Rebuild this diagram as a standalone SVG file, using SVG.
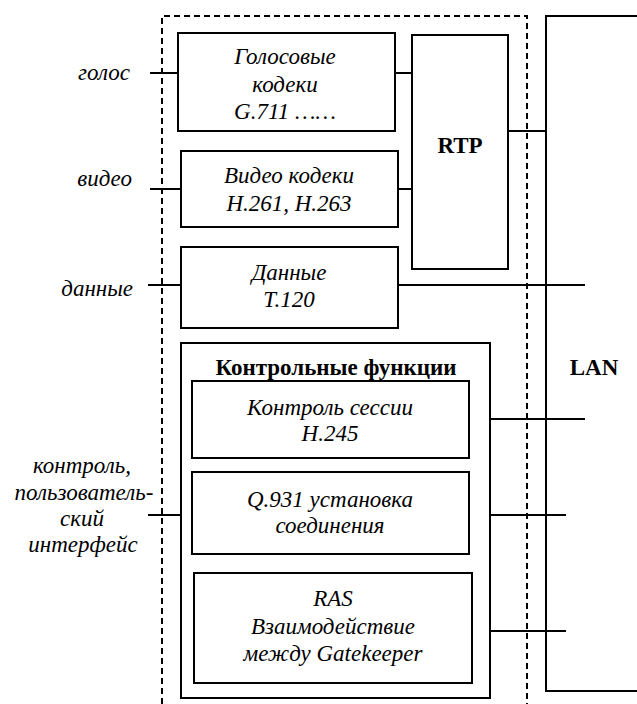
<svg xmlns="http://www.w3.org/2000/svg" width="637" height="704" viewBox="0 0 637 704">
<style>
.box{fill:#fff;stroke:#000;stroke-width:2}
.ln{stroke:#000;stroke-width:2;fill:none}
.dash{stroke:#000;stroke-width:2;fill:none;stroke-dasharray:6,4}
.t{font-family:"Liberation Serif","Times New Roman",serif;font-style:italic;font-size:23px;fill:#000;text-anchor:middle}
.tr{font-family:"Liberation Serif","Times New Roman",serif;font-style:italic;font-size:23px;fill:#000;text-anchor:end}
.b{font-family:"Liberation Serif","Times New Roman",serif;font-weight:bold;font-size:23px;fill:#000;text-anchor:middle}
</style>
<rect width="637" height="704" fill="#fff"/>
<g id="boundary">
<path class="dash" d="M162,704 V16 H527 V704"/>
</g>
<g id="lan">
<path class="ln" d="M637,16 H546 V691 H637"/>
<text class="b" x="594" y="375">LAN</text>
</g>
<g id="connectors">
<path class="ln" d="M150,73 H178"/>
<path class="ln" d="M395,73 H412"/>
<path class="ln" d="M150,189 H181"/>
<path class="ln" d="M398,189 H412"/>
<path class="ln" d="M508,131 H546"/>
<path class="ln" d="M148,285 H181"/>
<path class="ln" d="M398,285 H585"/>
<path class="ln" d="M148,515 H181"/>
<path class="ln" d="M469,419 H585"/>
<path class="ln" d="M469,515 H566"/>
<path class="ln" d="M472,631 H566"/>
</g>
<g id="labels">
<text class="tr" x="130" y="80">голос</text>
<text class="tr" x="132" y="186">видео</text>
<text class="tr" x="133" y="296">данные</text>
<text class="t" x="82" y="473">контроль,</text>
<text class="t" x="84" y="500">пользователь-</text>
<text class="t" x="82" y="526">ский</text>
<text class="t" x="83" y="552">интерфейс</text>
</g>
<g id="voice-codecs">
<rect class="box" x="178" y="33" width="217" height="98"/>
<text class="t" x="285" y="64">Голосовые</text>
<text class="t" x="285" y="92">кодеки</text>
<text class="t" x="285" y="119">G.711 ……</text>
</g>
<g id="video-codecs">
<rect class="box" x="181" y="151" width="217" height="76"/>
<text class="t" x="289" y="183">Видео кодеки</text>
<text class="t" x="289" y="211">H.261, H.263</text>
</g>
<g id="rtp">
<rect class="box" x="412" y="35" width="96" height="234"/>
<text class="b" x="460" y="153">RTP</text>
</g>
<g id="data">
<rect class="box" x="181" y="247" width="217" height="81"/>
<text class="t" x="289" y="280">Данные</text>
<text class="t" x="289" y="307">T.120</text>
</g>
<g id="control-functions">
<rect class="box" x="181" y="343" width="309" height="355"/>
<text class="b" x="336" y="375">Контрольные функции</text>
</g>
<g id="session-control">
<rect class="box" x="192" y="381" width="277" height="77"/>
<text class="t" x="330" y="415">Контроль сессии</text>
<text class="t" x="330" y="441">H.245</text>
</g>
<g id="q931">
<rect class="box" x="192" y="472" width="277" height="82"/>
<text class="t" x="330" y="507">Q.931 установка</text>
<text class="t" x="330" y="533">соединения</text>
</g>
<g id="ras">
<rect class="box" x="194" y="573" width="278" height="110"/>
<text class="t" x="333" y="606">RAS</text>
<text class="t" x="333" y="634">Взаимодействие</text>
<text class="t" x="333" y="661">между Gatekeeper</text>
</g>
</svg>
